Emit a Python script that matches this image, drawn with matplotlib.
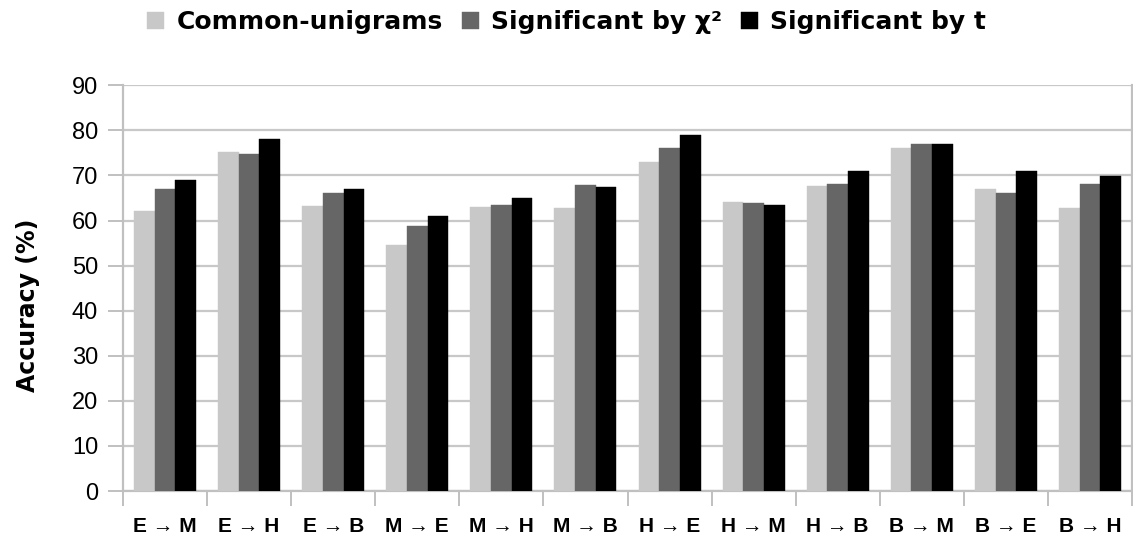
import matplotlib
matplotlib.use("Agg")
import matplotlib.pyplot as plt
import numpy as np

categories = ["E \u2192 M", "E \u2192 H", "E \u2192 B", "M \u2192 E", "M \u2192 H", "M \u2192 B",
              "H \u2192 E", "H \u2192 M", "H \u2192 B", "B \u2192 M", "B \u2192 E", "B \u2192 H"]
common_unigrams = [62.1, 75.2, 63.2, 54.6, 63.1, 62.7, 73.0, 64.1, 67.7, 76.0, 67.0, 62.7]
significant_chi2 = [67.0, 74.8, 66.1, 58.7, 63.4, 67.9, 76.2, 63.9, 68.2, 76.9, 66.0, 68.2]
significant_t = [69.0, 78.1, 67.0, 61.0, 65.0, 67.4, 79.0, 63.5, 70.9, 76.9, 70.9, 69.8]
series_names = ["Common-unigrams", "Significant by \u03c7\u00b2", "Significant by t"]
yticks = list(range(0, 91, 10))

colors = ["#c8c8c8", "#666666", "#000000"]
fam = ["Liberation Sans", "DejaVu Sans"]
plt.rcParams["font.family"] = fam

fig = plt.figure(figsize=(11.33, 5.40), dpi=100)
ax = fig.add_axes([123 / 1133, 1 - 491 / 540, (1132 - 123) / 1133, (491 - 85.3) / 540])

x = np.arange(len(categories))
w = 0.246
for k, (vals, name) in enumerate(zip([common_unigrams, significant_chi2, significant_t], series_names)):
    ax.bar(x + (k - 1) * w, vals, width=w, color=colors[k], label=name, zorder=3,
           edgecolor=colors[k], linewidth=0.3)

ax.set_xlim(-0.5, len(categories) - 0.5)
ax.set_ylim(0, 90)
ax.set_yticks(yticks)
ax.yaxis.grid(True, color="#c8c8c8", linewidth=1.6, zorder=0)
ax.set_axisbelow(True)

for s in ["left", "bottom", "right"]:
    ax.spines[s].set_color("#c0c0c0")
    ax.spines[s].set_linewidth(1.6)
ax.spines["top"].set_visible(False)

ax.set_xticks(np.arange(-0.5, len(categories), 1.0), minor=False)
ax.set_xticklabels([])
ax.set_xticks(x, minor=True)
ax.set_xticklabels(categories, minor=True, fontsize=15, fontweight="bold")
ax.tick_params(axis="x", which="minor", length=0, pad=19)
ax.tick_params(axis="x", which="major", length=11, width=1.4, color="#c0c0c0")
ax.tick_params(axis="y", length=11, width=1.4, color="#c0c0c0", labelsize=17, pad=7)

fig.text(28 / 1133, 1 - 305.5 / 540, "Accuracy (%)", rotation=90, ha="center", va="center",
         fontsize=17, fontweight="bold", family=["DejaVu Sans"])

fig.legend(loc="center", bbox_to_anchor=(0.5, 1 - 22 / 540), ncol=3, frameon=False,
           prop={"size": 18, "weight": "bold", "family": ["DejaVu Sans"]},
           handlelength=0.68, handleheight=0.68, handletextpad=0.48, columnspacing=0.76,
           borderpad=0, borderaxespad=0)

fig.savefig("out.png", dpi=100)
